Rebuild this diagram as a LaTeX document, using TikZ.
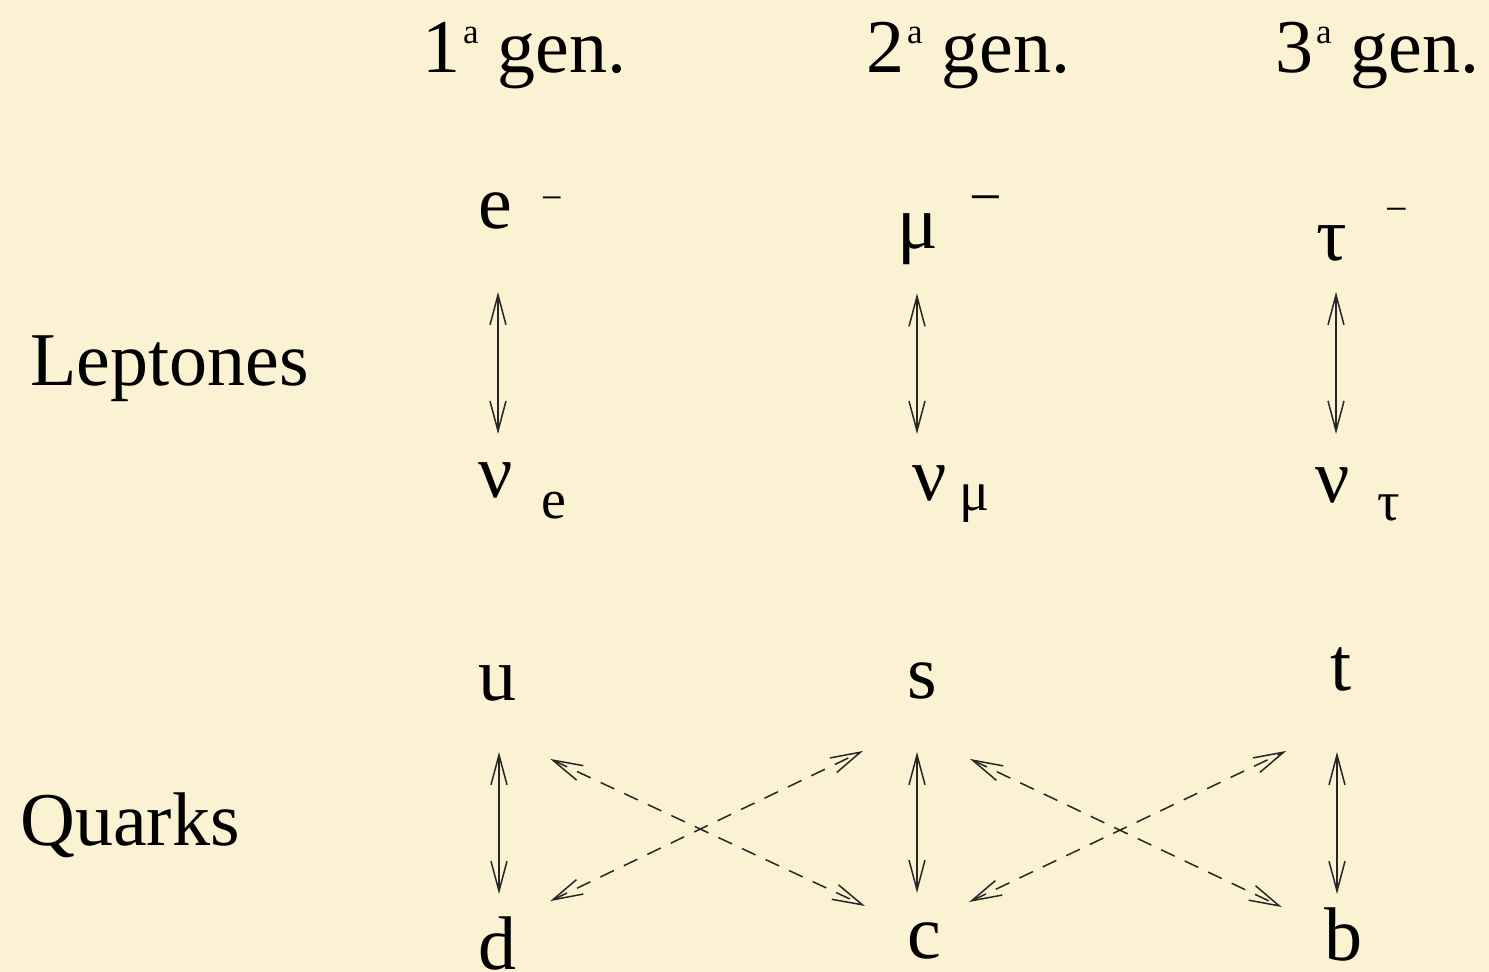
\documentclass[tikz,border=0pt]{standalone}
\usepackage{fontspec}
\setmainfont{Liberation Serif}
\usetikzlibrary{arrows.meta}
\definecolor{clrbg}{HTML}{FAF2D3}
\definecolor{clrline}{HTML}{262626}
\definecolor{clrtext}{HTML}{000000}
\newcommand{\ordsup}{\raisebox{29pt}{\fontsize{35}{35}\selectfont a}}

\begin{document}
\begin{tikzpicture}[
    x=1pt, y=-1pt,
    every node/.style={inner sep=0pt, text=clrtext},
    heading/.style={font=\fontsize{76}{80}\selectfont, anchor=base west},
    family/.style={font=\fontsize{76}{80}\selectfont, anchor=base west},
    particle/.style={font=\fontsize{76}{80}\selectfont, anchor=base},
    subidx/.style={font=\fontsize{56}{60}\selectfont, anchor=base west},
    chargemark/.style={anchor=center},
    biarrow/.style={{Straight Barb[length=30pt,width=16pt]}-{Straight Barb[length=30pt,width=16pt]},
                    line width=1.5pt, color=clrline},
    mixarrow/.style={biarrow, dash pattern=on 15pt off 11pt},
]
\path[use as bounding box, fill=clrbg] (0,0) rectangle (1489,972);
% column headings and row labels
\node[heading] (h_1) at (422,72) {1\hspace{3pt}\ordsup\ gen.};
\node[heading] (h_2) at (866,72) {2\hspace{3pt}\ordsup\ gen.};
\node[heading] (h_3) at (1275,72) {3\hspace{3pt}\ordsup\ gen.};
\node[family] (f_lep) at (30,385) {Leptones};
\node[family] (f_qrk) at (20,845) {Quarks};
% leptons
\node[particle] (p_e) at (495,228) {e};
\node[particle] (p_mu) at (918,248) {μ};
\node[particle] (p_tau) at (1332,260) {τ};
\node[particle] (p_nue) at (496,497) {ν};
\node[particle] (p_numu) at (930,500) {ν};
\node[particle] (p_nutau) at (1333,502) {ν};
\node[chargemark, font=\fontsize{38}{40}\selectfont] (c_e) at (552,204) {−};
\node[chargemark, font=\fontsize{58}{60}\selectfont] (c_mu) at (986,206) {−};
\node[chargemark, font=\fontsize{40}{40}\selectfont] (c_tau) at (1397,215) {−};
\node[subidx] (s_e) at (541,518) {e};
\node[subidx] (s_mu) at (959,510) {μ};
\node[subidx] (s_tau) at (1377,520) {τ};
% quarks
\node[particle] (p_u) at (497,700) {u};
\node[particle] (p_s) at (922,698) {s};
\node[particle] (p_t) at (1341,690) {t};
\node[particle] (p_d) at (497,969) {d};
\node[particle] (p_c) at (924,958) {c};
\node[particle] (p_b) at (1343,960) {b};
% doublets
\draw[biarrow, shorten <=63pt, shorten >=28pt] ([xshift=3pt]p_e.south) -- ([xshift=3pt]p_e.south |- p_nue.north);
\draw[biarrow, shorten <=29pt, shorten >=31pt] ([xshift=-1pt]p_mu.south) -- ([xshift=-1pt]p_mu.south |- p_numu.north);
\draw[biarrow, shorten <=31pt, shorten >=33pt] ([xshift=4pt]p_tau.south) -- ([xshift=4pt]p_tau.south |- p_nutau.north);
\draw[biarrow, shorten <=51pt, shorten >=22pt] ([xshift=2pt]p_u.south) -- ([xshift=2pt]p_u.south |- p_d.north);
\draw[biarrow, shorten <=53pt, shorten >=29pt] ([xshift=-5pt]p_s.south) -- ([xshift=-5pt]p_s.south |- p_c.north);
\draw[biarrow, shorten <=61pt, shorten >=13pt] ([xshift=-4pt]p_t.south) -- ([xshift=-4pt]p_t.south |- p_b.north);
% mixing between generations
\draw[mixarrow] ([xshift=34pt, yshift=-58pt]p_u.south east) -- ([xshift=-42pt, yshift=16pt]p_c.north west);
\draw[mixarrow] ([xshift=34pt, yshift=15pt]p_d.north east) -- ([xshift=-44pt, yshift=-52pt]p_s.south west);
\draw[mixarrow] ([xshift=33pt, yshift=-60pt]p_s.south east) -- ([xshift=-42pt, yshift=0pt]p_b.north west);
\draw[mixarrow] ([xshift=28pt, yshift=20pt]p_c.north east) -- ([xshift=-44pt, yshift=-60pt]p_t.south west);
\end{tikzpicture}
\end{document}
